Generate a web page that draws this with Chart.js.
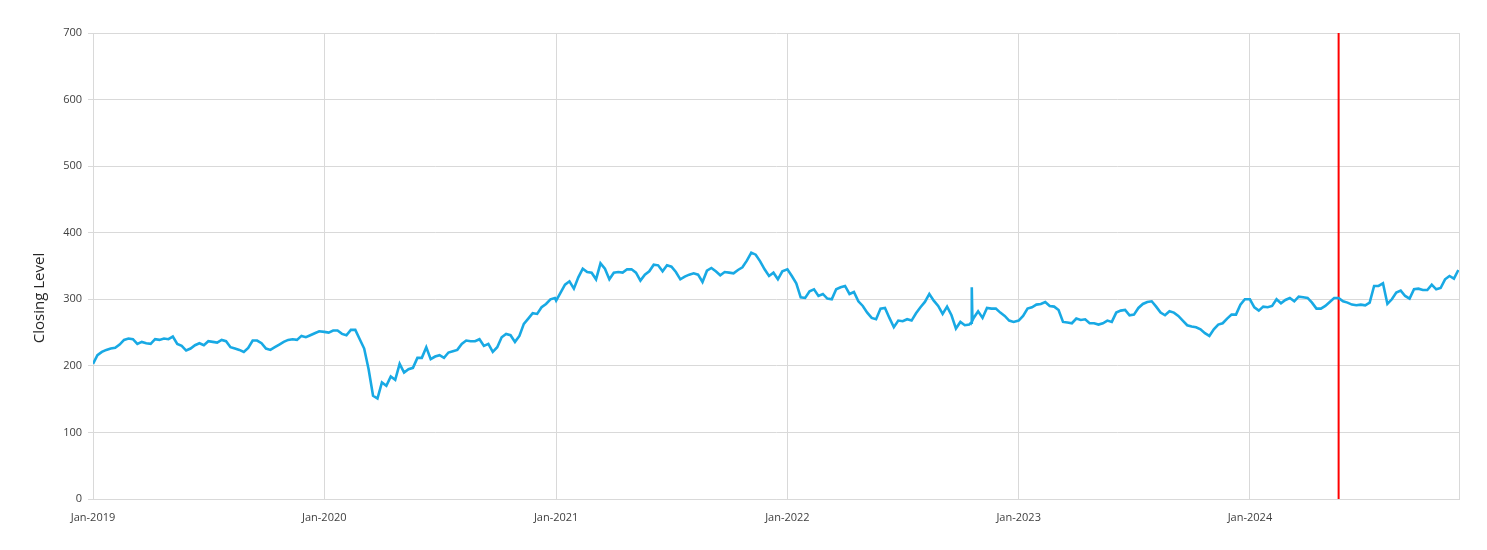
<!DOCTYPE html>
<html>
<head>
<meta charset="utf-8">
<script src="https://cdn.jsdelivr.net/npm/chart.js@4.4.1/dist/chart.umd.min.js"></script>
<style>
  html, body { margin: 0; padding: 0; background: #fff; }
  #wrap { width: 1487px; height: 550px; }
</style>
</head>
<body>
<div id="wrap"><canvas id="myChart" width="1487" height="550"></canvas></div>
<script>
// weekly closing levels, one array per year, first value = week of 1 Jan
const years = [2019, 2020, 2021, 2022, 2023, 2024];
const close2019 = [203, 216, 221, 224, 226, 227, 232, 239, 241, 240, 233, 236, 234, 233, 240, 239, 241, 240, 244, 233,
    230, 223, 226, 231, 234, 231, 237, 236, 235, 239, 237, 228, 226, 224, 221, 227, 238, 238, 234, 226,
    224, 228, 232, 236, 239, 240, 239, 245, 243, 246, 249, 252];
const close2020 = [251, 250, 253, 253, 248, 246, 254, 254, 240, 226, 195, 155, 151, 175, 170, 184, 179, 203, 190, 195,
    197, 212, 212, 228, 210, 214, 216, 212, 220, 222, 224, 233, 238, 237, 237, 240, 230, 233, 221, 228,
    243, 248, 246, 236, 245, 263, 271, 279, 278, 288, 293, 300, 302];
const close2021 = [298, 310, 322, 327, 316, 333, 346, 341, 340, 330, 354, 346, 330, 340, 341, 340, 345, 345, 340, 328,
    337, 342, 352, 351, 342, 351, 349, 341, 330, 334, 337, 339, 337, 326, 343, 347, 342, 336, 341, 340,
    339, 344, 348, 358, 370, 367, 357, 345, 335, 340, 330, 342];
const close2022 = [345, 335, 324, 303, 302, 312, 315, 305, 308, 301, 300, 315, 318, 320, 308, 311, 297, 290, 280, 272,
    270, 286, 287, 272, 258, 268, 267, 270, 268, 279, 288, 296, 308, 298, 290, 278, 289, 276, 256, 266,
    261, 262, 272, 282, 272, 287, 286, 286, 280, 275, 268, 266];
const close2023 = [268, 275, 286, 288, 292, 293, 296, 290, 289, 284, 266, 265, 264, 271, 269, 270, 264, 264, 262, 264,
    268, 266, 280, 283, 284, 276, 277, 287, 293, 296, 297, 289, 280, 276, 282, 280, 275, 268, 261, 259,
    258, 255, 249, 245, 255, 262, 264, 271, 277, 277, 292, 300];
const close2024 = [300, 288, 283, 289, 288, 290, 300, 294, 299, 302, 297, 304, 303, 302, 295, 286, 286, 290, 296, 302,
    302, 297, 295, 292, 291, 292, 291, 295, 320, 320, 324, 293, 300, 310, 313, 305, 301, 315, 316, 314,
    314, 322, 315, 317, 330, 335, 331, 344];
const closeByYear = [close2019, close2020, close2021, close2022, close2023, close2024];

// one-day spike in Oct 2022
const spikeDates = ['2022-10-18', '2022-10-19', '2022-10-20'];
const spikeValues = [265, 318, 268];

// red marker line
const markerDate = '2024-05-20';
const markerRange = [0, 700];

const yTicks = [0, 100, 200, 300, 400, 500, 600, 700];
const xStart = '2019-01-01';
const xEnd = '2024-11-26';
const yTitle = 'Closing Level';

const DAY = 86400000;
const t = s => Date.parse(s + 'T00:00:00Z');

let points = [];
years.forEach((yr, i) => {
    closeByYear[i].forEach((v, k) => {
        points.push({ x: Date.UTC(yr, 0, 1) + k * 7 * DAY, y: v });
    });
});
spikeDates.forEach((d, i) => points.push({ x: t(d), y: spikeValues[i] }));
points.sort((a, b) => a.x - b.x);

const yearTicks = years.map(yr => Date.UTC(yr, 0, 1)).concat([t(xEnd)]);

const fontFamily = '"Open Sans", "Noto Sans", sans-serif';
const tickFont = { family: fontFamily, size: 11 };

// axis title drawn a bit below the plot centre, like the original
const yTitlePlugin = {
    id: 'yTitle',
    afterDraw(chart) {
        const c = chart.ctx;
        c.save();
        c.translate(40, 298);
        c.rotate(-Math.PI / 2);
        c.font = '15px ' + fontFamily;
        c.fillStyle = '#262626';
        c.textAlign = 'center';
        c.textBaseline = 'middle';
        c.fillText(yTitle, 0, 0);
        c.restore();
    }
};

const ctx = document.getElementById('myChart').getContext('2d');
new Chart(ctx, {
    type: 'line',
    data: {
        datasets: [{
            label: yTitle,
            data: points,
            borderColor: '#18A9E4',
            borderWidth: 2.6,
            pointRadius: 0,
            tension: 0,
            fill: false
        }, {
            label: 'marker',
            data: markerRange.map(v => ({ x: t(markerDate), y: v })),
            borderColor: '#FF0000',
            borderWidth: 2,
            pointRadius: 0,
            fill: false
        }]
    },
    options: {
        responsive: false,
        animation: false,
        layout: { padding: { top: 33, right: 28, left: 0, bottom: 0 } },
        plugins: {
            legend: { display: false },
            tooltip: { enabled: false }
        },
        scales: {
            x: {
                type: 'linear',
                min: t(xStart),
                max: t(xEnd),
                afterBuildTicks: scale => {
                    scale.ticks = yearTicks.map(v => ({ value: v }));
                },
                afterFit: scale => { scale.height = 51; },
                ticks: {
                    autoSkip: false,
                    maxRotation: 0,
                    padding: 12,
                    color: '#404040',
                    font: tickFont,
                    callback: v => {
                        const d = new Date(v);
                        return (d.getUTCMonth() === 0 && d.getUTCDate() === 1) ? 'Jan-' + d.getUTCFullYear() : '';
                    }
                },
                grid: { color: '#D9D9D9', tickLength: 0 },
                border: { color: '#D9D9D9' }
            },
            y: {
                min: 0,
                max: 700,
                afterBuildTicks: scale => {
                    scale.ticks = yTicks.map(v => ({ value: v }));
                },
                afterFit: scale => { scale.width = 93; },
                ticks: {
                    padding: 6,
                    color: '#404040',
                    font: tickFont
                },
                grid: { color: '#D9D9D9', tickLength: 5 },
                border: { color: '#D9D9D9' }
            }
        }
    },
    plugins: [yTitlePlugin]
});
</script>
</body>
</html>
